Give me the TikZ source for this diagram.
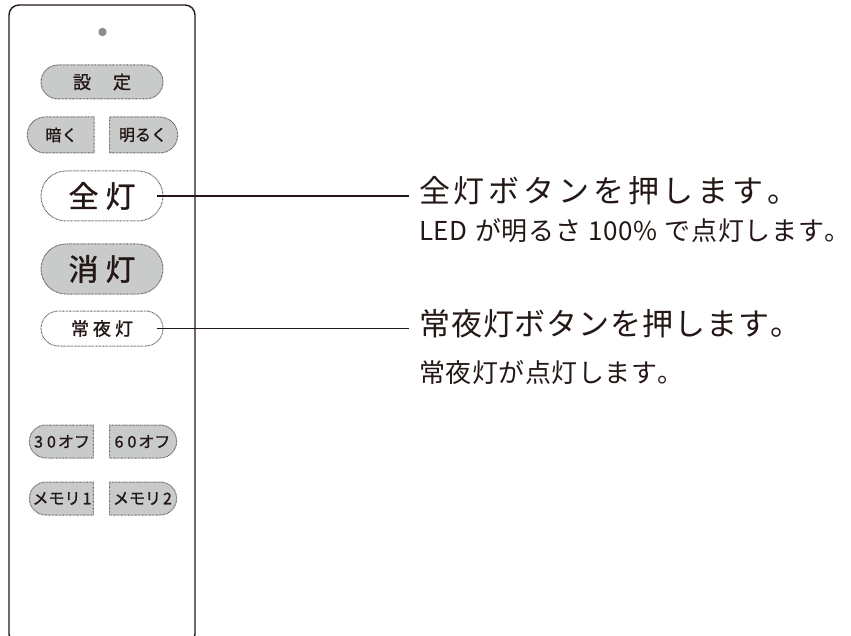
\documentclass[tikz,border=0pt]{standalone}
\usepackage{fontspec}
\setmainfont{Noto Sans CJK JP}
\newfontfamily\jpb{Noto Sans CJK JP}[FakeBold=1.2]
\newfontfamily\jpt{Noto Sans CJK JP}
\usetikzlibrary{shapes.misc}
\definecolor{ink}{RGB}{35,24,21}
\definecolor{btngray}{RGB}{201,202,202}
\definecolor{dotc}{RGB}{90,90,90}
\definecolor{ledc}{RGB}{140,140,140}
\ExplSyntaxOn
\dim_new:N \l_fit_nat_dim
\int_new:N \l_fit_n_int
\dim_new:N \l_fit_gap_dim
\box_new:N \l_fit_box
\NewDocumentCommand\fitline{mm}{
  \hbox_set:Nn \l_fit_box {#2}
  \dim_set:Nn \l_fit_nat_dim {\box_wd:N \l_fit_box}
  \int_set:Nn \l_fit_n_int {\tl_count:n {#2} - 1}
  \dim_set:Nn \l_fit_gap_dim {(#1 - \l_fit_nat_dim) / \l_fit_n_int}
  \tl_map_inline:nn {#2} {##1 \skip_horizontal:N \l_fit_gap_dim}
  \skip_horizontal:n {-\l_fit_gap_dim}
}
\ExplSyntaxOff
\begin{document}
\begin{tikzpicture}[x=1pt,y=-1pt,
  btn/.style={rounded rectangle, draw=dotc, dash pattern=on 0.7pt off 0.7pt, line width=1pt, inner sep=0pt, text=ink},
  gbtn/.style={btn, fill=btngray},
  wbtn/.style={btn, fill=white},
  lft/.style={rounded rectangle right arc=none},
  rgt/.style={rounded rectangle left arc=none},
  fbig/.style={font=\jpb\fontsize{30pt}{32pt}\selectfont},
  fmid/.style={font=\jpb\fontsize{18pt}{20pt}\selectfont},
  fsml/.style={font=\jpb\fontsize{16pt}{18pt}\selectfont},
  title/.style={anchor=west, inner xsep=10pt, inner ysep=0pt, text=ink, font=\jpt\fontsize{31pt}{33pt}\selectfont},
  sub/.style={anchor=west, inner sep=0pt, text=ink, font=\jpt\fontsize{26pt}{28pt}\selectfont},
  leader/.style={draw=ink, line width=1.3pt}
]
\useasboundingbox (0,0) rectangle (851,636);
\begin{scope}
  \clip (0,0) rectangle (851,636);
  \draw[ink, line width=1.4pt, rounded corners=10pt] (9,5) rectangle (195,644);
\end{scope}
\fill[ledc] (102.5,32) circle (4.2pt);
% buttons
\node[gbtn, fmid, minimum width=122pt, minimum height=34pt] (settei) at (102,82) {設\hspace{22pt}定};
\node[gbtn, lft, fsml, minimum width=67pt, minimum height=36pt] (kuraku) at (61.5,135) {暗く};
\node[gbtn, rgt, fsml, minimum width=68pt, minimum height=36pt] (akaruku) at (143,135) {明るく};
\node[wbtn, fbig, minimum width=122pt, minimum height=50pt] (zentou) at (102,196) {全\hspace{7pt}灯};
\node[gbtn, fbig, minimum width=122pt, minimum height=50pt] (shoutou) at (102,269) {消\hspace{7pt}灯};
\node[wbtn, fmid, minimum width=122pt, minimum height=35pt] (jouya) at (102,328.5) {常\hspace{4pt}夜\hspace{4pt}灯};
\node[gbtn, lft, fsml, minimum width=64pt, minimum height=33pt] (off30) at (62,441.5) {3\hspace{4pt}0\hspace{2pt}オフ};
\node[gbtn, rgt, fsml, minimum width=67pt, minimum height=33pt] (off60) at (142.5,441.5) {6\hspace{4pt}0\hspace{2pt}オフ};
\node[gbtn, lft, fsml, minimum width=64pt, minimum height=33pt] (mem1) at (62,498.5) {メモリ\hspace{2pt}1};
\node[gbtn, rgt, fsml, minimum width=67pt, minimum height=33pt] (mem2) at (142.5,498.5) {メモリ\hspace{2pt}2};
% texts
\node[title] (t1) at (409,191) {\fitline{376pt}{全灯ボタンを押します。}};
\node[sub] (s1) at (419,231) {\fitline{429pt}{LED~が明るさ~100\%~で点灯します。}};
\node[title] (t2) at (409,324) {\fitline{379pt}{常夜灯ボタンを押します。}};
\node[sub] (s2) at (419,373) {\fitline{262pt}{常夜灯が点灯します。}};
% leaders
\coordinate (l1) at ([xshift=-7pt]zentou.east);
\coordinate (l2) at ([xshift=-7pt]jouya.east);
\draw[leader] (l1) -- (l1 -| t1.west);
\draw[leader] (l2) -- (l2 -| t2.west);
\end{tikzpicture}
\end{document}
